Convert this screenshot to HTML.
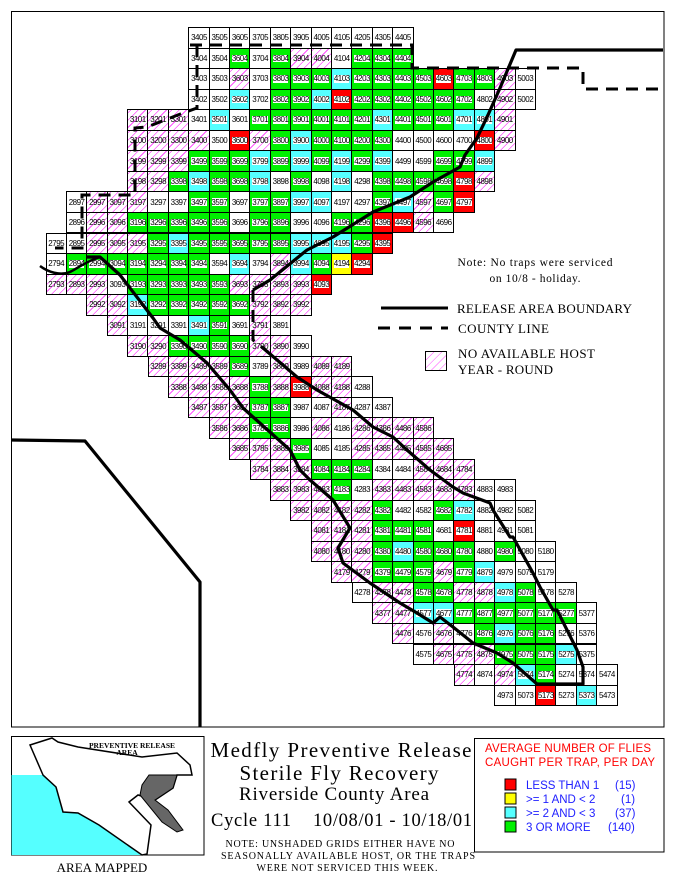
<!DOCTYPE html>
<html><head><meta charset="utf-8"><style>
body{margin:0;width:673px;height:885px;background:#fff;position:relative;overflow:hidden;font-family:"Liberation Sans",sans-serif}
.w{position:absolute;display:flex}
.w b{flex:none;box-sizing:border-box;width:21.4px;height:21.55px;margin-right:-1px;border:1px solid #000;background:#fff;display:flex;align-items:center;justify-content:center;font:normal 8px "Liberation Sans",sans-serif;letter-spacing:-0.5px;color:#000}
.w b.g{box-shadow:inset 0 0 0 2px #00f000,inset 0 6px #00f000,inset 0 -6px #00f000}
.w b.c{box-shadow:inset 0 0 0 2px #55ffff,inset 0 6px #55ffff,inset 0 -6px #55ffff}
.w b.r{box-shadow:inset 0 0 0 2px #ff0000,inset 0 6px #ff0000,inset 0 -6px #ff0000}
.w b.y{box-shadow:inset 0 0 0 2px #ffff00,inset 0 6px #ffff00,inset 0 -6px #ffff00}
.w b.h{background:repeating-linear-gradient(-45deg,#fff 0 4.4px,#ff50ff 4.4px 5.2px)}
svg{position:absolute;left:0;top:0}
</style></head><body>
<div class="w" style="left:188.3px;top:27px"><b>3405</b><b>3505</b><b>3605</b><b>3705</b><b>3805</b><b>3905</b><b>4005</b><b>4105</b><b>4205</b><b>4305</b><b>4405</b></div>
<div class="w" style="left:188.3px;top:47.55px"><b>3404</b><b>3504</b><b class="g">3604</b><b>3704</b><b class="g">3804</b><b class="h">3904</b><b class="h">4004</b><b>4104</b><b class="g">4204</b><b class="g">4304</b><b class="g">4404</b></div>
<div class="w" style="left:188.3px;top:68.1px"><b>3403</b><b>3503</b><b class="h">3603</b><b>3703</b><b class="g">3803</b><b class="g">3903</b><b class="g">4003</b><b class="c">4103</b><b class="g">4203</b><b class="g">4303</b><b class="g">4403</b><b class="g">4503</b><b class="r">4603</b><b class="g">4703</b><b class="g">4803</b><b class="h">4903</b><b>5003</b></div>
<div class="w" style="left:188.3px;top:88.65px"><b>3402</b><b>3502</b><b class="c">3602</b><b>3702</b><b class="g">3802</b><b class="g">3902</b><b class="c">4002</b><b class="r">4102</b><b class="g">4202</b><b class="g">4302</b><b class="g">4402</b><b class="g">4502</b><b class="g">4602</b><b class="g">4702</b><b>4802</b><b class="h">4902</b><b>5002</b></div>
<div class="w" style="left:127.1px;top:109.2px"><b class="h">3101</b><b class="h">3201</b><b class="h">3301</b><b>3401</b><b class="c">3501</b><b>3601</b><b class="g">3701</b><b class="g">3801</b><b class="g">3901</b><b class="g">4001</b><b class="g">4101</b><b class="g">4201</b><b class="c">4301</b><b class="g">4401</b><b class="g">4501</b><b class="g">4601</b><b class="c">4701</b><b class="c">4801</b><b class="h">4901</b></div>
<div class="w" style="left:127.1px;top:129.75px"><b class="h">3100</b><b class="h">3200</b><b class="h">3300</b><b class="h">3400</b><b>3500</b><b class="r">3600</b><b class="h">3700</b><b class="g">3800</b><b class="c">3900</b><b class="g">4000</b><b class="g">4100</b><b class="g">4200</b><b class="g">4300</b><b>4400</b><b>4500</b><b>4600</b><b>4700</b><b class="r">4800</b><b class="h">4900</b></div>
<div class="w" style="left:127.1px;top:150.3px"><b class="h">3199</b><b class="h">3299</b><b class="h">3399</b><b class="g">3499</b><b class="g">3599</b><b class="g">3699</b><b class="c">3799</b><b class="g">3899</b><b class="c">3999</b><b class="g">4099</b><b class="c">4199</b><b class="g">4299</b><b class="c">4399</b><b>4499</b><b>4599</b><b class="g">4699</b><b class="g">4799</b><b class="c">4899</b></div>
<div class="w" style="left:127.1px;top:170.85px"><b class="h">3198</b><b class="h">3298</b><b class="g">3398</b><b class="c">3498</b><b class="g">3598</b><b class="g">3698</b><b class="c">3798</b><b>3898</b><b class="g">3998</b><b>4098</b><b class="c">4198</b><b>4298</b><b class="g">4398</b><b class="g">4498</b><b class="g">4598</b><b class="g">4698</b><b class="r">4798</b><b class="h">4898</b></div>
<div class="w" style="left:65.9px;top:191.4px"><b>2897</b><b class="h">2997</b><b class="h">3097</b><b class="h">3197</b><b>3297</b><b>3397</b><b class="g">3497</b><b class="g">3597</b><b>3697</b><b class="g">3797</b><b class="g">3897</b><b class="c">3997</b><b class="c">4097</b><b>4197</b><b>4297</b><b class="g">4397</b><b class="c">4497</b><b class="h">4597</b><b class="g">4697</b><b class="r">4797</b></div>
<div class="w" style="left:65.9px;top:211.95px"><b>2896</b><b class="h">2996</b><b class="h">3096</b><b class="g">3196</b><b class="g">3296</b><b class="g">3396</b><b class="g">3496</b><b class="g">3596</b><b>3696</b><b class="g">3796</b><b class="g">3896</b><b>3996</b><b>4096</b><b class="g">4196</b><b class="g">4296</b><b class="r">4396</b><b class="r">4496</b><b class="h">4596</b><b>4696</b></div>
<div class="w" style="left:45.5px;top:232.5px"><b>2795</b><b>2895</b><b class="h">2995</b><b class="h">3095</b><b class="h">3195</b><b class="g">3295</b><b class="c">3395</b><b class="g">3495</b><b class="g">3595</b><b class="g">3695</b><b class="g">3795</b><b class="g">3895</b><b class="c">3995</b><b class="c">4095</b><b class="c">4195</b><b class="g">4295</b><b class="r">4395</b></div>
<div class="w" style="left:45.5px;top:253.05px"><b>2794</b><b class="g">2894</b><b class="g">2994</b><b class="g">3094</b><b class="g">3194</b><b class="g">3294</b><b class="g">3394</b><b class="g">3494</b><b>3594</b><b class="c">3694</b><b>3794</b><b class="h">3894</b><b class="c">3994</b><b class="g">4094</b><b class="y">4194</b><b class="r">4294</b></div>
<div class="w" style="left:45.5px;top:273.6px"><b class="h">2793</b><b class="h">2893</b><b class="h">2993</b><b>3093</b><b class="g">3193</b><b class="g">3293</b><b class="g">3393</b><b class="g">3493</b><b class="g">3593</b><b class="h">3693</b><b class="h">3793</b><b class="h">3893</b><b class="h">3993</b><b class="r">4093</b></div>
<div class="w" style="left:86.3px;top:294.15px"><b class="h">2992</b><b class="h">3092</b><b class="c">3192</b><b class="g">3292</b><b class="g">3392</b><b class="g">3492</b><b class="g">3592</b><b class="g">3692</b><b class="h">3792</b><b class="h">3892</b><b class="h">3992</b></div>
<div class="w" style="left:106.7px;top:314.7px"><b class="h">3091</b><b>3191</b><b>3291</b><b>3391</b><b class="c">3491</b><b class="g">3591</b><b>3691</b><b class="h">3791</b><b>3891</b></div>
<div class="w" style="left:127.1px;top:335.25px"><b class="h">3190</b><b class="h">3290</b><b class="g">3390</b><b class="g">3490</b><b class="g">3590</b><b class="g">3690</b><b class="h">3790</b><b class="h">3890</b><b>3990</b></div>
<div class="w" style="left:147.5px;top:355.8px"><b class="h">3289</b><b class="h">3389</b><b class="h">3489</b><b class="h">3589</b><b class="g">3689</b><b>3789</b><b class="h">3889</b><b>3989</b><b class="h">4089</b><b class="h">4189</b></div>
<div class="w" style="left:167.9px;top:376.35px"><b class="h">3388</b><b class="h">3488</b><b class="h">3588</b><b class="h">3688</b><b class="g">3788</b><b class="h">3888</b><b class="r">3988</b><b class="h">4088</b><b class="h">4188</b><b>4288</b></div>
<div class="w" style="left:188.3px;top:396.9px"><b class="h">3487</b><b class="h">3587</b><b class="h">3687</b><b class="g">3787</b><b class="g">3887</b><b>3987</b><b>4087</b><b class="h">4187</b><b>4287</b><b>4387</b></div>
<div class="w" style="left:208.7px;top:417.45px"><b class="h">3586</b><b class="h">3686</b><b class="g">3786</b><b class="g">3886</b><b>3986</b><b class="h">4086</b><b>4186</b><b class="h">4286</b><b class="h">4386</b><b class="h">4486</b><b class="h">4586</b></div>
<div class="w" style="left:229.1px;top:438px"><b class="h">3685</b><b class="h">3785</b><b class="h">3885</b><b class="g">3985</b><b>4085</b><b>4185</b><b class="h">4285</b><b class="h">4385</b><b class="h">4485</b><b class="h">4585</b><b class="h">4685</b></div>
<div class="w" style="left:249.5px;top:458.55px"><b class="h">3784</b><b class="h">3884</b><b class="h">3984</b><b class="g">4084</b><b class="g">4184</b><b class="g">4284</b><b>4384</b><b>4484</b><b class="h">4584</b><b class="h">4684</b><b class="h">4784</b></div>
<div class="w" style="left:269.9px;top:479.1px"><b class="h">3883</b><b class="h">3983</b><b class="h">4083</b><b class="g">4183</b><b>4283</b><b class="h">4383</b><b class="h">4483</b><b class="h">4583</b><b class="h">4683</b><b class="h">4783</b><b>4883</b><b>4983</b></div>
<div class="w" style="left:290.3px;top:499.65px"><b class="h">3982</b><b class="h">4082</b><b class="h">4182</b><b class="h">4282</b><b class="g">4382</b><b>4482</b><b>4582</b><b class="g">4682</b><b class="c">4782</b><b>4882</b><b>4982</b><b>5082</b></div>
<div class="w" style="left:310.7px;top:520.2px"><b class="h">4081</b><b class="h">4181</b><b class="h">4281</b><b class="g">4381</b><b class="g">4481</b><b class="g">4581</b><b>4681</b><b class="r">4781</b><b>4881</b><b>4981</b><b>5081</b></div>
<div class="w" style="left:310.7px;top:540.75px"><b class="h">4080</b><b class="h">4180</b><b class="h">4280</b><b class="g">4380</b><b class="c">4480</b><b class="g">4580</b><b class="g">4680</b><b class="g">4780</b><b>4880</b><b class="g">4980</b><b>5080</b><b>5180</b></div>
<div class="w" style="left:331.1px;top:561.3px"><b class="h">4179</b><b class="h">4279</b><b class="g">4379</b><b class="g">4479</b><b class="g">4579</b><b class="h">4679</b><b class="g">4779</b><b class="c">4879</b><b>4979</b><b>5079</b><b>5179</b></div>
<div class="w" style="left:351.5px;top:581.85px"><b>4278</b><b class="h">4378</b><b class="h">4478</b><b class="g">4578</b><b class="g">4678</b><b class="h">4778</b><b class="h">4878</b><b class="c">4978</b><b class="g">5078</b><b>5178</b><b>5278</b></div>
<div class="w" style="left:371.9px;top:602.4px"><b class="h">4377</b><b class="h">4477</b><b class="c">4577</b><b class="c">4677</b><b class="g">4777</b><b class="g">4877</b><b class="g">4977</b><b class="g">5077</b><b class="g">5177</b><b class="g">5277</b><b>5377</b></div>
<div class="w" style="left:392.3px;top:622.95px"><b class="h">4476</b><b>4576</b><b class="h">4676</b><b>4776</b><b class="g">4876</b><b class="c">4976</b><b class="g">5076</b><b class="g">5176</b><b>5276</b><b>5376</b></div>
<div class="w" style="left:412.7px;top:643.5px"><b>4575</b><b class="h">4675</b><b class="h">4775</b><b class="h">4875</b><b class="g">4975</b><b class="g">5075</b><b class="g">5175</b><b class="c">5275</b><b>5375</b></div>
<div class="w" style="left:453.5px;top:664.05px"><b class="h">4774</b><b>4874</b><b class="h">4974</b><b class="c">5074</b><b class="g">5174</b><b>5274</b><b>5374</b><b>5474</b></div>
<div class="w" style="left:494.3px;top:684.6px"><b>4973</b><b>5073</b><b class="r">5173</b><b>5273</b><b class="c">5373</b><b>5473</b></div>

<svg width="673" height="885" viewBox="0 0 673 885">
<defs><pattern id="hp" width="5.5" height="5.5" patternUnits="userSpaceOnUse" patternTransform="rotate(45)"><rect width="5.5" height="5.5" fill="#fff"/><line x1="0" y1="0" x2="0" y2="5.5" stroke="#ff50ff" stroke-width="1"/></pattern></defs>
<rect x="11.5" y="11.5" width="652.5" height="715.5" fill="none" stroke="#000" stroke-width="1"/>
<g fill="none" stroke="#000" stroke-width="3.2" stroke-linejoin="round">
<polyline points="12,440 85,441 200,582 200,727"/>
<polyline points="663,50 516,50 500,88 488,115 477,138 465,155 460,167 433,182 410,197 373,212 333,237 307,250 270,280 253,290"/>
<polyline points="263,348 297,377 317,390 353,410 373,427 393,437 407,450 430,470 453,487 463,493 490,503 493,510 510,537 513,537 533,573 540,587 553,610 557,610 567,630 577,650 583,667 583,684 537,684 513,663 497,653 473,643 453,627 440,617 433,623 417,613 400,603 370,583 343,563 338,548 350,528 333,500 310,480 300,470 290,450 243,408 230,390 207,363 180,340 160,328 153,318 120,275 100,257 87,257"/>
<path d="M100,257 C85,262 78,268 70,272 C60,276 48,272 40,266" stroke-width="2.5"/>
</g>
<g fill="none" stroke="#000" stroke-width="3" stroke-dasharray="12,8">
<polyline points="190,45 412,45 412,68 583,68 583,89 663,89"/>
<polyline points="197,45 197,108 183,113 147,127 135,128 135,195 82,195 82,248 55,248"/>
<polyline points="253,290 253,340 263,348"/>
</g>
<line x1="381" y1="308" x2="448" y2="308" stroke="#000" stroke-width="3"/>
<line x1="378" y1="328" x2="448" y2="328" stroke="#000" stroke-width="3" stroke-dasharray="12,9"/>
<rect x="425.5" y="351.5" width="21" height="19" fill="url(#hp)" stroke="#000"/>
<rect x="11.5" y="736.5" width="192.5" height="118.5" fill="#fff" stroke="#000"/>
<polygon points="11.6,775 43,775 56,787 63,812 78,813 99,825 142,855 11.6,855" fill="#55ffff"/>
<polygon points="43,775 30,745 52,738 58,742 78,747 142,757 177,753 190,765 192,775 177,775 173,788 155,800 138,795 129,802 151,825 147,854 142,855 99,825 78,813 63,812 56,787" fill="#fff" stroke="#000" stroke-width="1.5"/>
<polygon points="149,775 177,775 173,788 155,800 168,810 183,830 177,832 162,822 140,795 142,785" fill="#666" stroke="#000"/>
<rect x="474.5" y="738.5" width="189.5" height="113.5" fill="#fff" stroke="#000"/>
<rect x="505" y="779" width="11" height="11" fill="#ff0000" stroke="#000"/>
<rect x="505" y="793" width="11" height="11" fill="#ffff00" stroke="#000"/>
<rect x="505" y="807" width="11" height="11" fill="#55ffff" stroke="#000"/>
<rect x="505" y="821" width="11" height="11" fill="#00f000" stroke="#000"/>
<g font-family="Liberation Sans, sans-serif" font-size="11.5" fill="#2020ff">
<text x="526" y="789">LESS THAN 1</text><text x="615" y="789">(15)</text>
<text x="526" y="803">&gt;= 1 AND &lt; 2</text><text x="621" y="803">(1)</text>
<text x="526" y="817">&gt;= 2 AND &lt; 3</text><text x="615" y="817">(37)</text>
<text x="526" y="831">3 OR MORE</text><text x="608" y="831">(140)</text>
</g>
<g font-family="Liberation Sans, sans-serif" font-size="11.5" fill="#ff0000">
<text x="485" y="752" textLength="166">AVERAGE NUMBER OF FLIES</text>
<text x="485" y="766" textLength="170">CAUGHT PER TRAP, PER DAY</text>
</g>
<g font-family="Liberation Serif, serif" fill="#000">
<text x="132" y="748" font-size="7.5" font-weight="bold" text-anchor="middle">PREVENTIVE RELEASE</text>
<text x="127" y="755" font-size="7.5" font-weight="bold" text-anchor="middle">AREA</text>
<text x="102" y="872" font-size="13" text-anchor="middle">AREA MAPPED</text>
<text x="341" y="757" font-size="21" text-anchor="middle" textLength="261">Medfly Preventive Release</text>
<text x="339" y="780" font-size="21" text-anchor="middle" textLength="199">Sterile Fly Recovery</text>
<text x="334" y="800" font-size="19" text-anchor="middle" textLength="190">Riverside County Area</text>
<text x="211" y="826" font-size="18.5" textLength="80">Cycle 111</text>
<text x="313" y="826" font-size="18.5" textLength="159">10/08/01 - 10/18/01</text>
<text x="340" y="847" font-size="10" text-anchor="middle" textLength="229">NOTE: UNSHADED GRIDS EITHER HAVE NO</text>
<text x="348" y="859" font-size="10" text-anchor="middle" textLength="254">SEASONALLY AVAILABLE HOST, OR THE TRAPS</text>
<text x="347" y="871" font-size="10" text-anchor="middle" textLength="181">WERE NOT SERVICED THIS WEEK.</text>
<text x="535" y="266" font-size="11.5" text-anchor="middle" textLength="155">Note: No traps were serviced</text>
<text x="535" y="282" font-size="11.5" text-anchor="middle" textLength="91">on 10/8 - holiday.</text>
<text x="457" y="313" font-size="13" textLength="175">RELEASE AREA BOUNDARY</text>
<text x="458" y="333" font-size="13" textLength="91">COUNTY LINE</text>
<text x="458" y="358" font-size="13" textLength="137">NO AVAILABLE HOST</text>
<text x="458" y="374" font-size="13" textLength="95">YEAR - ROUND</text>
</g>
</svg>
</body></html>
